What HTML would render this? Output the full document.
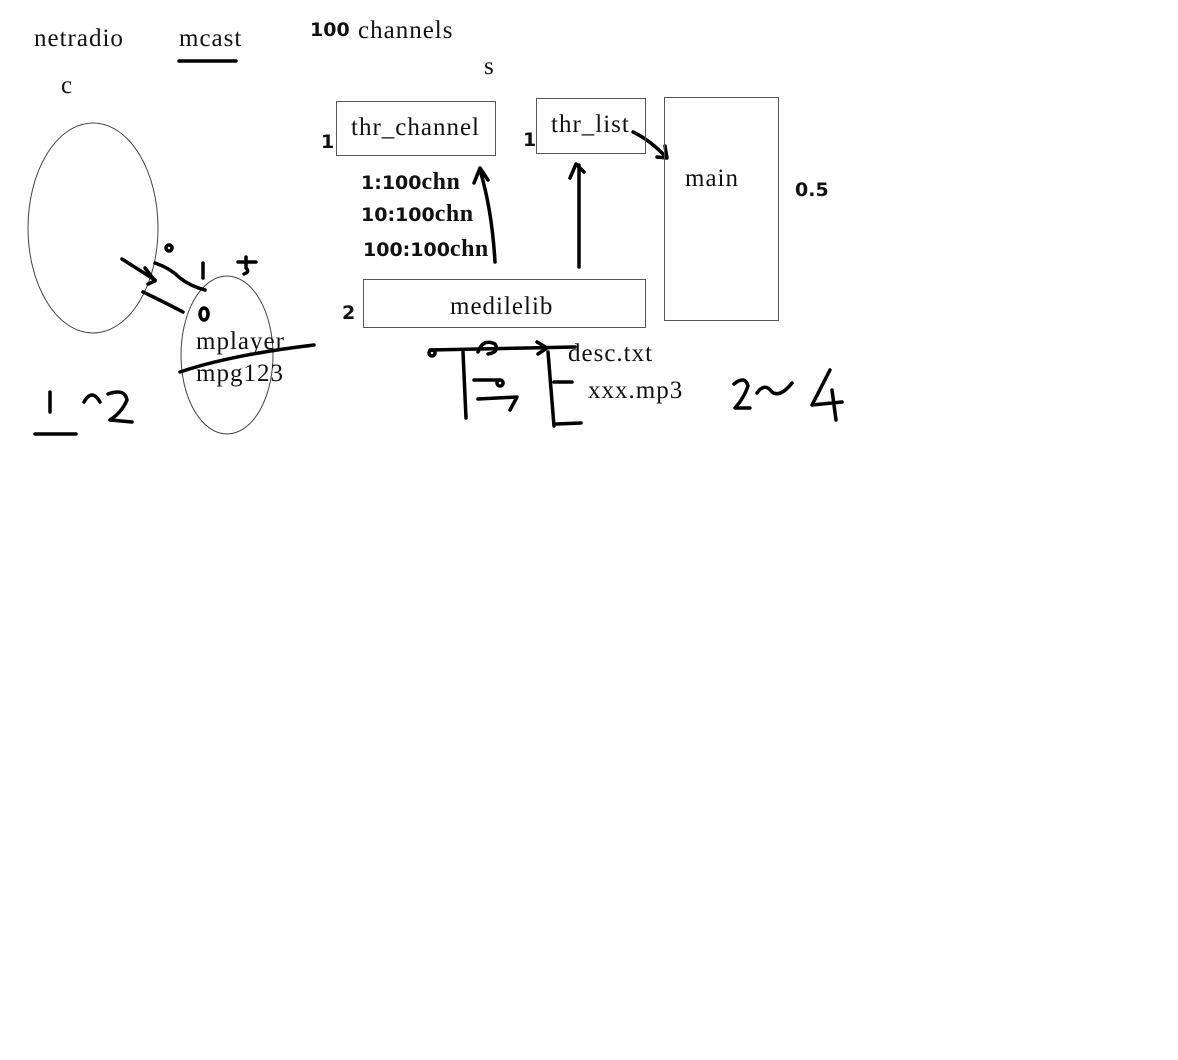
<!DOCTYPE html>
<html><head><style>
html,body{margin:0;padding:0;background:#fff;}
body{width:1178px;height:1060px;position:relative;overflow:hidden;}
.t{position:absolute;font-family:"Liberation Serif",serif;font-size:25px;letter-spacing:1px;color:#111;line-height:1;white-space:nowrap;}
.s{position:absolute;font-family:"DejaVu Sans","Liberation Sans",sans-serif;font-size:19px;color:#111;line-height:1;white-space:nowrap;font-weight:bold;}
.c{font-family:'Liberation Serif',serif;font-size:24px;font-weight:bold;letter-spacing:0.5px}
.b{position:absolute;border:1px solid #555;box-sizing:border-box;}
</style></head><body>
<svg width="1178" height="1060" style="position:absolute;left:0;top:0" fill="none" stroke="#000" stroke-linecap="round" stroke-linejoin="round">
<ellipse cx="93" cy="228" rx="65" ry="105" stroke="#444" stroke-width="1"/>
<ellipse cx="227" cy="355" rx="46" ry="79" stroke="#444" stroke-width="1"/>
<g stroke-width="3.5">
<path d="M179 61 L236 61"/>
<path d="M35 434 L76 434"/>
<path d="M50 392 L50 412"/>
<path d="M84 402 Q92 388 100 402 M108 394 Q125 388 127 400 Q122 412 110 420 L132 422"/>
<path d="M122 259 L155 280 M145 268 L155 281 L148 284"/>
<path d="M155 263 Q170 268 180 278 Q190 286 205 290"/>
<path d="M143 292 Q160 300 183 312"/>
<path d="M169 245 a3 3 0 1 0 0.1 0"/>
<path d="M203 263 L203 278"/>
<path d="M238 262 L256 262 M246 257 L246 268 Q250 272 244 274"/>
<path d="M204 308 a4 6 0 1 0 0.1 0"/>
<path d="M180 372 Q230 355 314 345"/>
<path d="M495 262 Q492 210 480 170 M474 183 L480 168 L488 180"/>
<path d="M579 267 L579 165 M570 178 L576 164 L584 172"/>
<path d="M633 132 Q650 140 666 157 M657 157 L667 158 L665 146"/>
<path d="M430 350 L575 347 M537 342 L547 348 L538 354"/>
<path d="M432 350 a3 3 0 1 0 0.1 0"/>
<path d="M478 352 Q483 338 495 344 Q500 352 488 354"/>
<path d="M463 352 L466 418"/>
<path d="M474 380 L500 380 M500 380 a3 3 0 1 0 0.1 0"/>
<path d="M478 399 L517 397 L510 410"/>
<path d="M548 352 L554 426 M554 382 L572 382 M556 424 L581 423"/>
<path d="M734 384 Q745 375 748 386 Q744 398 735 408 L750 408"/>
<path d="M757 393 Q765 382 772 392 Q780 398 792 383"/>
<path d="M830 370 L812 405 L842 402 M832 390 L836 420"/>
</g>
</svg>
<div class="t" style="left:34px;top:26px">netradio</div>
<div class="t" style="left:179px;top:26px">mcast</div>
<div class="s" style="left:310px;top:21px">100</div>
<div class="t" style="left:358px;top:18px">channels</div>
<div class="t" style="left:484px;top:54px">s</div>
<div class="t" style="left:61px;top:73px">c</div>
<div class="b" style="left:336px;top:101px;width:160px;height:55px"></div>
<div class="t" style="left:351px;top:115px">thr_channel</div>
<div class="s" style="left:321px;top:133px">1</div>
<div class="b" style="left:536px;top:98px;width:110px;height:56px"></div>
<div class="t" style="left:551px;top:112px">thr_list</div>
<div class="s" style="left:523px;top:131px">1</div>
<div class="b" style="left:664px;top:97px;width:115px;height:224px"></div>
<div class="t" style="left:685px;top:166px">main</div>
<div class="s" style="left:795px;top:181px">0.5</div>
<div class="s" style="left:361px;top:170px">1:100<span class="c">chn</span></div>
<div class="s" style="left:361px;top:202px">10:100<span class="c">chn</span></div>
<div class="s" style="left:363px;top:237px">100:100<span class="c">chn</span></div>
<div class="b" style="left:363px;top:279px;width:283px;height:49px"></div>
<div class="t" style="left:450px;top:294px">medilelib</div>
<div class="s" style="left:342px;top:304px">2</div>
<div class="t" style="left:196px;top:329px">mplayer</div>
<div class="t" style="left:196px;top:361px">mpg123</div>
<div class="t" style="left:568px;top:341px">desc.txt</div>
<div class="t" style="left:588px;top:378px">xxx.mp3</div>
</body></html>
